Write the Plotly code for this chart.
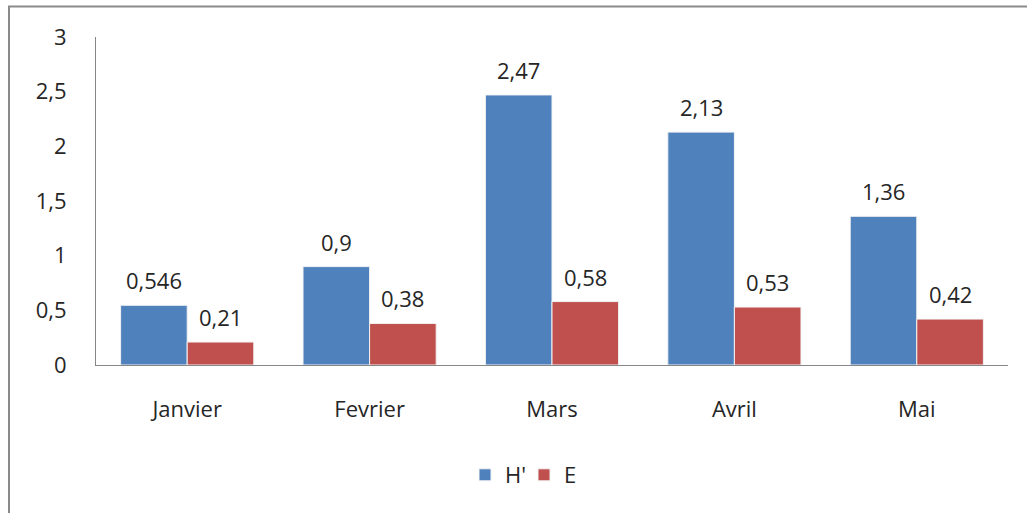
import plotly.graph_objects as go

months = ["Janvier", "Fevrier", "Mars", "Avril", "Mai"]
h_prime = [0.546, 0.9, 2.47, 2.13, 1.36]
evenness = [0.21, 0.38, 0.58, 0.53, 0.42]
y_ticks = [0, 0.5, 1, 1.5, 2, 2.5, 3]

BLUE = "#4F81BD"
RED = "#C0504D"
AXIS = "#878787"
FONT = dict(family="Open Sans", size=22, color="#262626")

W, H = 1027, 513
L, R, T, B = 96, 19, 37, 148
plot_w, plot_h = W - L - R, H - T - B

bargap = 0.27
half = (1 - bargap) / 4  # offset of each bar centre from its category centre

fig = go.Figure()
fig.add_trace(go.Bar(name="H'", x=months, y=h_prime, marker=dict(color=BLUE, line=dict(color="#f2f2f2", width=1))))
fig.add_trace(go.Bar(name="E", x=months, y=evenness, marker=dict(color=RED, line=dict(color="#f2f2f2", width=1))))

# value labels above each bar
for i, (a, b) in enumerate(zip(h_prime, evenness)):
    for off, v in ((-half, a), (half, b)):
        fig.add_annotation(x=i + off, y=v, xref="x", yref="y",
                           text=("%g" % v).replace(".", ","),
                           showarrow=False, yanchor="bottom", yshift=8, font=FONT)

# outer frame around the chart
def px_x(p):
    return (p - L) / plot_w

def px_y(p):
    return (H - B - p) / plot_h

fig.add_shape(type="rect", xref="paper", yref="paper",
              x0=px_x(9), x1=px_x(1045), y0=px_y(530), y1=px_y(6.5),
              line=dict(color="#8a8a8a", width=2), fillcolor="rgba(0,0,0,0)")

fig.update_layout(
    width=W, height=H,
    margin=dict(l=L, r=R, t=T, b=B),
    paper_bgcolor="white", plot_bgcolor="white",
    barmode="group", bargap=bargap, bargroupgap=0,
    separators=", ",
    font=FONT,
    showlegend=True,
    legend=dict(orientation="h", x=px_x(524), xanchor="center", y=px_y(475), yanchor="middle",
                font=FONT, entrywidth=14, entrywidthmode="pixels", traceorder="normal"),
    xaxis=dict(showline=True, linecolor=AXIS, linewidth=1, ticks="", showgrid=False,
               ticklabelstandoff=25, tickfont=FONT),
    yaxis=dict(range=[0, 3], tickvals=y_ticks, showline=True, linecolor=AXIS, linewidth=1,
               ticks="", showgrid=False, zeroline=False, ticklabelstandoff=24, tickfont=FONT),
)

fig.write_html("out.html")
